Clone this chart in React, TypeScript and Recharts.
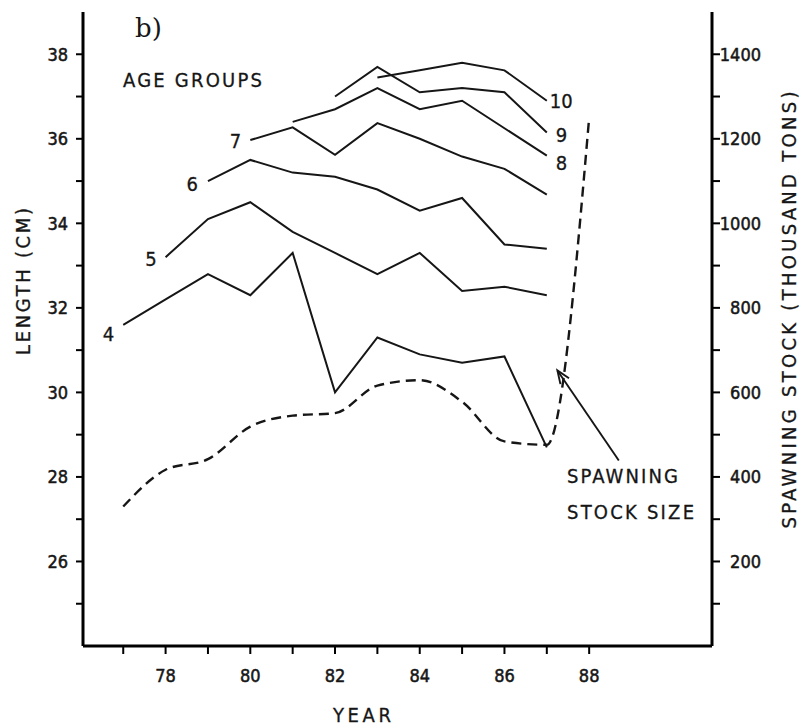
import React from 'react';
import { LineChart, Line, XAxis, YAxis, ReferenceLine } from 'recharts';

// years on the x axis
const years = [77, 78, 79, 80, 81, 82, 83, 84, 85, 86, 87, 88];

// mean length (cm) per age group, null where the group is not plotted
const age4 = [31.6, 32.2, 32.8, 32.3, 33.3, 30.0, 31.3, 30.9, 30.7, 30.85, 28.7, null];
const age5 = [null, 33.2, 34.1, 34.5, 33.8, 33.3, 32.8, 33.3, 32.4, 32.5, 32.3, null];
const age6 = [null, null, 35.0, 35.5, 35.2, 35.1, 34.8, 34.3, 34.6, 33.5, 33.4, null];
const age7 = [null, null, null, 35.97, 36.27, 35.62, 36.37, 36.0, 35.58, 35.29, 34.68, null];
const age8 = [null, null, null, null, 36.4, 36.7, 37.2, 36.7, 36.9, 36.25, 35.6, null];
const age9 = [null, null, null, null, null, 37.0, 37.7, 37.1, 37.2, 37.1, 36.15, null];
const age10 = [null, null, null, null, null, null, 37.45, 37.62, 37.8, 37.62, 36.9, null];

// spawning stock size (thousand tons)
const spawningStock = [330, 417, 442, 519, 545, 551, 616, 629, 578, 484, 476, 1250];

const xTicks = [77, 78, 79, 80, 81, 82, 83, 84, 85, 86, 87, 88];
const lengthTicks = [25, 26, 27, 28, 29, 30, 31, 32, 33, 34, 35, 36, 37, 38];
const stockTicks = [100, 200, 300, 400, 500, 600, 700, 800, 900, 1000, 1100, 1200, 1300, 1400];

// arrow pointing at the spawning stock line: [tail, tip] in (year, thousand tons)
const arrowSegment = [
  { x: 88.7, y: 439 },
  { x: 87.25, y: 652 },
];

const FONT = "'DejaVu Sans Condensed', 'DejaVu Sans', sans-serif";
const INK = '#161616';

const data = years.map((year, i) => ({
  year,
  age4: age4[i],
  age5: age5[i],
  age6: age6[i],
  age7: age7[i],
  age8: age8[i],
  age9: age9[i],
  age10: age10[i],
  stock: spawningStock[i],
}));

const series = [
  { key: 'age4', values: age4, name: '4', side: 'start', dx: -9, dy: 9 },
  { key: 'age5', values: age5, name: '5', side: 'start', dx: -9, dy: 2 },
  { key: 'age6', values: age6, name: '6', side: 'start', dx: -10, dy: 3 },
  { key: 'age7', values: age7, name: '7', side: 'start', dx: -9, dy: 1 },
  { key: 'age8', values: age8, name: '8', side: 'end', dx: 9, dy: 7 },
  { key: 'age9', values: age9, name: '9', side: 'end', dx: 9, dy: 3 },
  { key: 'age10', values: age10, name: '10', side: 'end', dx: 3, dy: 0 },
];

const firstIndex = (v: (number | null)[]) => v.findIndex((d) => d !== null);
const lastIndex = (v: (number | null)[]) => {
  for (let i = v.length - 1; i >= 0; i--) if (v[i] !== null) return i;
  return -1;
};

const tickText = { fontFamily: FONT, fontSize: 18, fill: INK, stroke: INK, strokeWidth: 0.5 };

const LeftTick = ({ x, y, payload }: any) =>
  payload.value % 2 === 0 ? (
    <text x={x} y={y} dy={6.5} textAnchor="end" {...tickText}>
      {payload.value}
    </text>
  ) : (
    <g />
  );

const RightTick = ({ x, y, payload }: any) =>
  payload.value % 200 === 0 ? (
    <text x={x + 40} y={y} dy={6.5} textAnchor="end" {...tickText}>
      {payload.value}
    </text>
  ) : (
    <g />
  );

const BottomTick = ({ x, y, payload }: any) =>
  payload.value % 2 === 0 ? (
    <text x={x} y={y} dy={13} textAnchor="middle" {...tickText}>
      {payload.value}
    </text>
  ) : (
    <g />
  );

const ArrowShape = (p: any) => {
  const { x1, y1, x2, y2 } = p;
  if ([x1, y1, x2, y2].some((v) => v === undefined || Number.isNaN(v))) return <g />;
  const ang = Math.atan2(y1 - y2, x1 - x2);
  const len = 14;
  const a1 = ang + 0.38;
  const a2 = ang - 0.38;
  return (
    <g stroke={INK} strokeWidth={1.9} fill="none">
      <line x1={x1} y1={y1} x2={x2} y2={y2} />
      <polyline
        points={`${x2 + len * Math.cos(a1)},${y2 + len * Math.sin(a1)} ${x2},${y2} ${
          x2 + len * Math.cos(a2)
        },${y2 + len * Math.sin(a2)}`}
      />
    </g>
  );
};

const App: React.FC = () => {
  const textStyle = { fontFamily: FONT, fontSize: 20, fill: INK, stroke: INK, strokeWidth: 0.3 };
  return (
    <div style={{ position: 'absolute', left: 0, top: 0, width: 801, height: 728, background: '#fff' }}>
      <LineChart width={801} height={728} data={data} margin={{ top: 12, right: 0, bottom: 0, left: 0 }}>
        <XAxis
          dataKey="year"
          type="number"
          domain={[76.05, 90.9]}
          ticks={xTicks}
          height={82}
          axisLine={{ stroke: '#000', strokeWidth: 3 }}
          tickLine={{ stroke: '#000', strokeWidth: 2 }}
          tickSize={8}
          tickMargin={15}
          tick={<BottomTick />}
          allowDataOverflow
        />
        <YAxis
          yAxisId="left"
          orientation="left"
          type="number"
          domain={[24, 39]}
          ticks={lengthTicks}
          width={83}
          axisLine={{ stroke: '#000', strokeWidth: 3 }}
          tickLine={{ stroke: '#000', strokeWidth: 2 }}
          tickSize={7}
          tickMargin={8}
          tick={<LeftTick />}
          allowDataOverflow
        />
        <YAxis
          yAxisId="right"
          orientation="right"
          type="number"
          domain={[0, 1500]}
          ticks={stockTicks}
          width={89}
          axisLine={{ stroke: '#000', strokeWidth: 3 }}
          tickLine={{ stroke: '#000', strokeWidth: 2 }}
          tickSize={8}
          tickMargin={1}
          tick={<RightTick />}
          allowDataOverflow
        />
        {series.map((s) => {
          const idx = s.side === 'start' ? firstIndex(s.values) : lastIndex(s.values);
          return (
            <Line
              key={s.key}
              yAxisId="left"
              dataKey={s.key}
              type="linear"
              stroke={INK}
              strokeWidth={2}
              dot={false}
              isAnimationActive={false}
              label={(lp: any) =>
                lp.index === idx ? (
                  <text
                    key={`${s.key}-lbl`}
                    x={lp.x + s.dx}
                    y={lp.y + s.dy}
                    dy={7}
                    textAnchor={s.side === 'start' ? 'end' : 'start'}
                    {...textStyle}
                  >
                    {s.name}
                  </text>
                ) : (
                  <g key={`${s.key}-${lp.index}`} />
                )
              }
            />
          );
        })}
        <Line
          yAxisId="right"
          dataKey="stock"
          type="monotone"
          stroke={INK}
          strokeWidth={2.4}
          strokeDasharray="10 6"
          dot={false}
          isAnimationActive={false}
        />
        <ReferenceLine yAxisId="right" segment={arrowSegment} shape={<ArrowShape />} ifOverflow="visible" />
      </LineChart>
      <svg
        width={801}
        height={728}
        style={{ position: 'absolute', left: 0, top: 0, pointerEvents: 'none' }}
      >
        <text x={135} y={37} fontFamily="'DejaVu Serif', serif" fontSize={26} fill={INK}>
          b)
        </text>
        <text x={123} y={87} textLength={139} lengthAdjust="spacing" {...textStyle}>
          AGE GROUPS
        </text>
        <text x={567} y={483} textLength={111} lengthAdjust="spacing" {...textStyle}>
          SPAWNING
        </text>
        <text x={567} y={519} textLength={127} lengthAdjust="spacing" {...textStyle}>
          STOCK SIZE
        </text>
        <text x={333} y={722} textLength={58} lengthAdjust="spacing" {...textStyle}>
          YEAR
        </text>
        <text
          transform="translate(29.5,281.5) rotate(-90)"
          textAnchor="middle"
          textLength={147}
          lengthAdjust="spacing"
          {...textStyle}
        >
          LENGTH (CM)
        </text>
        <text
          transform="translate(795.5,310) rotate(-90)"
          textAnchor="middle"
          textLength={437}
          lengthAdjust="spacing"
          {...textStyle}
        >
          SPAWNING STOCK (THOUSAND TONS)
        </text>
      </svg>
    </div>
  );
};

export default App;
